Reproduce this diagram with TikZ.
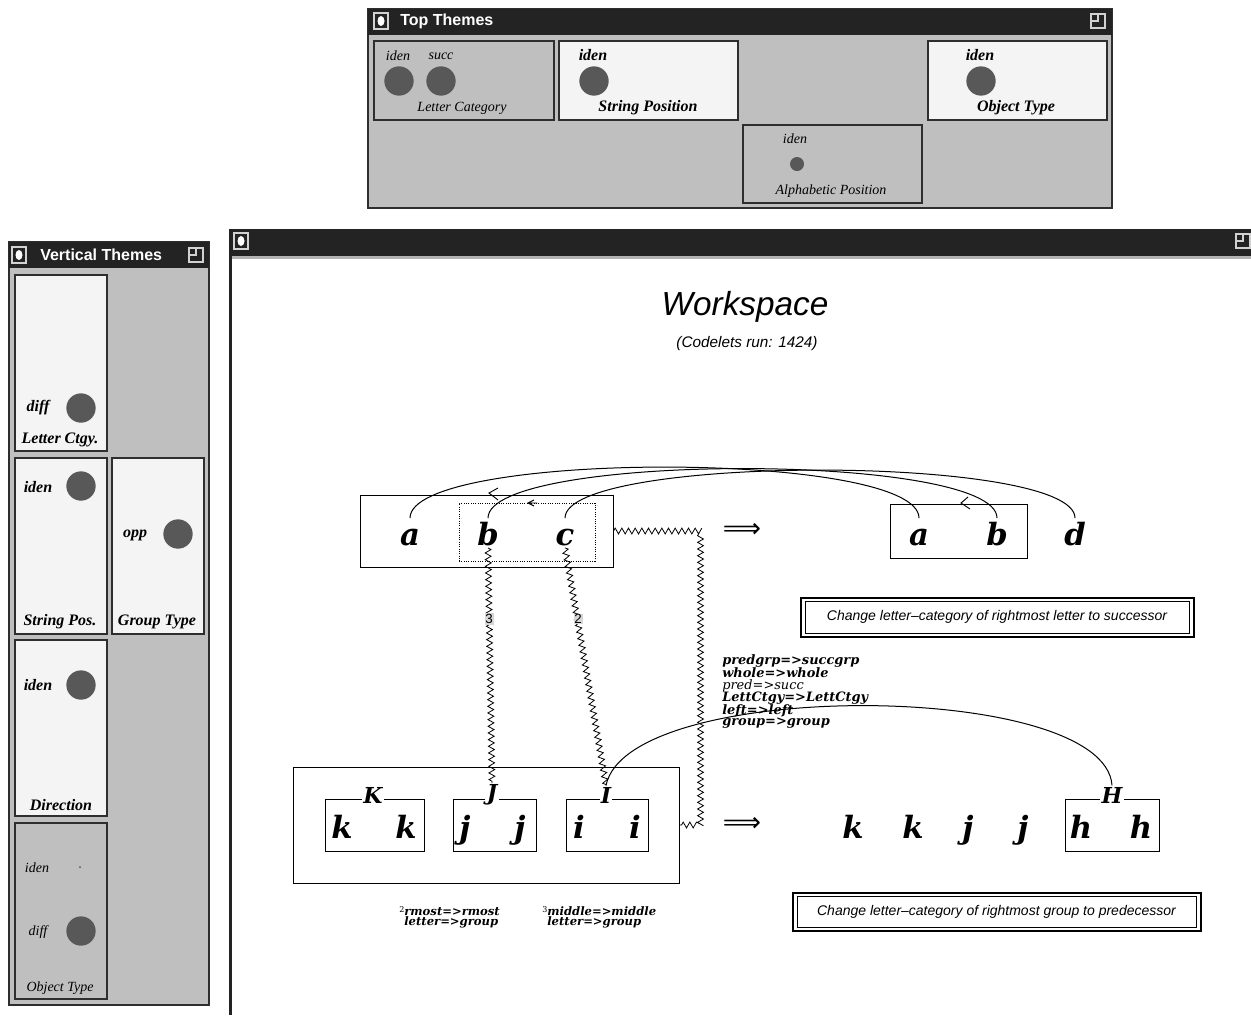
\documentclass[tikz,border=0pt]{standalone}
\usepackage{fontspec}
\setmainfont{DejaVu Serif}
\newfontfamily\lsans{Liberation Sans}
\newfontfamily\lserif{Liberation Serif}
\newfontfamily\djsans{DejaVu Sans}
\usetikzlibrary{decorations.pathmorphing,calc}
\definecolor{panelgray}{HTML}{BFBFBF}
\definecolor{barcol}{HTML}{232323}
\definecolor{dotcol}{HTML}{585858}
\definecolor{boxwhite}{HTML}{F4F4F4}
\definecolor{edgecol}{HTML}{2E2E2E}
\definecolor{labgray}{HTML}{D6D6D6}
\newcommand\fsz[1]{\fontsize{#1}{#1}\selectfont}
\tikzset{
  panel/.style={draw=edgecol, line width=1.2pt, fill=panelgray},
  wbox/.style={draw=edgecol, line width=1pt, fill=boxwhite},
  gbox/.style={draw=edgecol, line width=1pt, fill=panelgray},
  bt/.style={font=\lserif\bfseries\itshape\fsz{12}, inner sep=0},
  nt/.style={font=\lserif\itshape\fsz{10.5}, inner sep=0},
  dotn/.style={circle, fill=dotcol, inner sep=0, minimum size=22pt},
  ttl/.style={text=white, font=\lsans\bfseries\fsz{12}, anchor=west, inner sep=0},
  wl/.style={font=\fsz{23}\bfseries\itshape, inner sep=0, text height=20pt, text depth=2pt, anchor=base},
  gl/.style={font=\fsz{16.5}\bfseries\itshape, fill=white, inner sep=1pt},
  strbox/.style={draw, line width=0.75pt, inner sep=0},
  zz/.style={decorate, decoration={zigzag, segment length=5pt, amplitude=2.2pt}, line width=0.6pt},
  arcl/.style={line width=0.75pt},
  ml/.style={font=\fsz{9.7}\bfseries\itshape, anchor=west, inner sep=0},
  rl/.style={font=\lsans\itshape\fsz{10.5}, draw, line width=0.75pt, inner sep=0},
  implies/.style={font=\djsans\fsz{20}, inner sep=0},
  closeic/.pic={\draw[gray!35, line width=0.8pt] (-7,-8) rectangle (7,8);
                \fill[white] (0,0) ellipse [x radius=3.5, y radius=5];},
  resizeic/.pic={\draw[gray!35, line width=0.8pt] (-7,-7) rectangle (7,7) (0,-7) -- (0,0) -- (-7,0);}
}
\begin{document}
\begin{tikzpicture}[x=0.75pt,y=-0.75pt]
\useasboundingbox (0,0) rectangle (1251,1015);
\fill[white] (0,0) rectangle (1251,1015);

%% ---------------- Top Themes ----------------
\draw[panel] (368,9) rectangle (1112,208);
\fill[barcol] (368,9) rectangle (1112,35);
\pic at (381,21) {closeic};
\pic at (1098,21) {resizeic};
\node[ttl] (tttl) at (400,21) {Top Themes};

\draw[gbox] (374,41) rectangle (554,120);
\node[nt] (t1a) at (398,56) {iden};
\node[nt] (t1b) at (441,56) {succ};
\node[dotn] (t1c) at (399,81) {};
\node[dotn] (t1d) at (441,81) {};
\node[nt] (t1e) at (462,108) {Letter Category};

\draw[wbox] (559,41) rectangle (738,120);
\node[bt] (t2a) at (593,55) {iden};
\node[dotn] (t2b) at (594,81) {};
\node[bt] (t2c) at (648,108) {String Position};

\draw[wbox] (928,41) rectangle (1107,120);
\node[bt] (t3a) at (980,55) {iden};
\node[dotn] (t3b) at (981,81) {};
\node[bt] (t3c) at (1016,108) {Object Type};

\draw[gbox] (743,125) rectangle (922,203);
\node[nt] (t4a) at (795,139) {iden};
\node[dotn, minimum size=10.5pt] (t4b) at (797,164) {};
\node[nt] (t4c) at (831,191) {Alphabetic Position};

%% ---------------- Vertical Themes ----------------
\draw[panel] (9,242) rectangle (209,1005);
\fill[barcol] (9,242) rectangle (209,268);
\pic at (19,255) {closeic};
\pic at (196,255) {resizeic};
\node[ttl] (vttl) at (40,255) {Vertical Themes};

\draw[wbox] (15,275) rectangle (107,451);
\node[bt] (v1a) at (38,408) {diff};
\node[dotn] (v1b) at (81,408) {};
\node[bt] (v1c) at (60,440) {Letter Ctgy.};

\draw[wbox] (15,458) rectangle (107,634);
\node[bt] (v2a) at (38,487) {iden};
\node[dotn] (v2b) at (81,486) {};
\node[bt] (v2c) at (60,622) {String Pos.};

\draw[wbox] (112,458) rectangle (204,634);
\node[bt] (v3a) at (135,535) {opp};
\node[dotn] (v3b) at (178,534) {};
\node[bt] (v3c) at (157,622) {Group Type};

\draw[wbox] (15,640) rectangle (107,816);
\node[bt] (v4a) at (38,685) {iden};
\node[dotn] (v4b) at (81,685) {};
\node[bt] (v4c) at (61,805) {Direction};

\draw[gbox] (15,823) rectangle (107,999);
\node[nt] (v5a) at (37,868) {iden};
\node[dotn, minimum size=1.5pt] (v5b) at (80,867) {};
\node[nt] (v5c) at (38,932) {diff};
\node[dotn] (v5d) at (81,931) {};
\node[nt] (v5e) at (60,988) {Object Type};

%% ---------------- Workspace window ----------------
\fill[barcol] (229,229) rectangle (1251,256);
\fill[gray!60] (229,256) rectangle (1251,258.5);
\fill[barcol] (229,229) rectangle (232,1015);
\pic at (241,241) {closeic};
\pic at (1243,241) {resizeic};

\node[font=\lsans\itshape\fsz{25}, inner sep=0] (wst) at (745,307) {Workspace};
\node[font=\lsans\itshape\fsz{11.5}, inner sep=0] (wsc) at (747,344) {(Codelets run: 1424)};

% top strings
\node[strbox, minimum width=189.75pt, minimum height=54pt] (init) at (486.5,531) {};
\node[draw, densely dotted, line width=0.75pt, inner sep=0, minimum width=102pt, minimum height=43.5pt] (grp) at (527,532) {};
\node[strbox, minimum width=102.75pt, minimum height=40.5pt] (targ) at (958.5,531) {};
\node[wl] (a1) at (410,545) {a};
\node[wl] (b1) at (488,545) {b};
\node[wl] (c1) at (565,545) {c};
\node[wl] (a2) at (919,545) {a};
\node[wl] (b2) at (997,545) {b};
\node[wl] (d2) at (1075,545) {d};
\node[implies] (imp1) at (742,530) {⟹};

% bond marks
\draw[line width=0.7pt] (498,488) -- (489,493) -- (498,500);
\draw[line width=0.7pt] (534,500) -- (528,503) -- (534,506) (528,503) -- (537,503);
\draw[line width=0.7pt] (968,497) -- (961,503) -- (970,509);

% correspondence arcs
\draw[arcl] (a1.north) .. controls +(0,-68) and +(0,-68) .. (a2.north);
\draw[arcl] (b1.north) .. controls +(0,-66) and +(0,-66) .. (b2.north);
\draw[arcl] (c1.north) .. controls +(0,-64) and +(0,-64) .. (d2.north);

% rule 1
\node[rl, minimum width=288pt, minimum height=24pt] (r1) at (997,617) {Change letter–category of rightmost letter to successor};
\draw[line width=1.5pt] ($(r1.north west)+(-4,-3)$) rectangle ($(r1.south east)+(4,3)$);

% bottom strings
\node[strbox, minimum width=289.5pt, minimum height=87pt] (bot) at (486,825) {};
\node[strbox, minimum width=74.25pt, minimum height=39pt] (kbox) at (374.5,825) {};
\node[strbox, minimum width=62.25pt, minimum height=39pt] (jbox) at (494.5,825) {};
\node[strbox, minimum width=61.5pt, minimum height=39pt] (ibox) at (607,825) {};
\node[strbox, minimum width=70.5pt, minimum height=39pt] (hbox) at (1112,825) {};
\node[gl] (K) at (373,795) {K};
\node[gl] (J) at (492,795) {J};
\node[gl] (I) at (606,795) {I};
\node[gl] (H) at (1112,795) {H};
\node[wl] (k1) at (342,838) {k};
\node[wl] (k2) at (406,838) {k};
\node[wl] (j1) at (465,838) {j};
\node[wl] (j2) at (520,838) {j};
\node[wl] (i1) at (579,838) {i};
\node[wl] (i2) at (635,838) {i};
\node[wl] (k3) at (853,838) {k};
\node[wl] (k4) at (913,838) {k};
\node[wl] (j3) at (968,838) {j};
\node[wl] (j4) at (1023,838) {j};
\node[wl] (h1) at (1081,838) {h};
\node[wl] (h2) at (1141,838) {h};
\node[implies] (imp2) at (742,824) {⟹};

% zigzag bridges
\draw[zz] (b1.south) -- (J.north);
\draw[zz] (c1.south) -- (I.north);
\draw[zz] (init.east) -| ($(bot.east)+(21,0)$) -- (bot.east);
\node[font=\lsans\fsz{10}, fill=labgray, inner sep=0.6pt] (n3) at (489,619) {3};
\node[font=\lsans\fsz{10}, fill=labgray, inner sep=0.6pt] (n2) at (578,619) {2};

% group correspondence
\draw[arcl] (I.north) .. controls (628,678) and (1105,680) .. (H.north);

% concept mapping labels
\node[ml] (m1) at (722,661) {predgrp=>succgrp};
\node[ml] (m2) at (722,673) {whole=>whole};
\node[ml, font=\fsz{9.7}\itshape] (m3) at (722,686) {pred=>succ};
\node[ml] (m4) at (722,698) {LettCtgy=>LettCtgy};
\node[ml] (m5) at (722,711) {left=>left};
\node[ml] (m6) at (722,723) {group=>group};

% rule 2
\node[rl, minimum width=299.25pt, minimum height=23.25pt] (r2) at (996.5,911.5) {Change letter–category of rightmost group to predecessor};
\draw[line width=1.5pt] ($(r2.north west)+(-4,-3)$) rectangle ($(r2.south east)+(4,3)$);

% footnotes
\node[ml, font=\fsz{8.7}\bfseries\itshape] (f1) at (399,911) {\raisebox{0.5ex}{\normalfont\fsz{6}2}rmost=>rmost};
\node[ml, font=\fsz{8.7}\bfseries\itshape] (f2) at (404,922) {letter=>group};
\node[ml, font=\fsz{8.7}\bfseries\itshape] (f3) at (542,911) {\raisebox{0.5ex}{\normalfont\fsz{6}3}middle=>middle};
\node[ml, font=\fsz{8.7}\bfseries\itshape] (f4) at (547,922) {letter=>group};
\end{tikzpicture}
\end{document}
